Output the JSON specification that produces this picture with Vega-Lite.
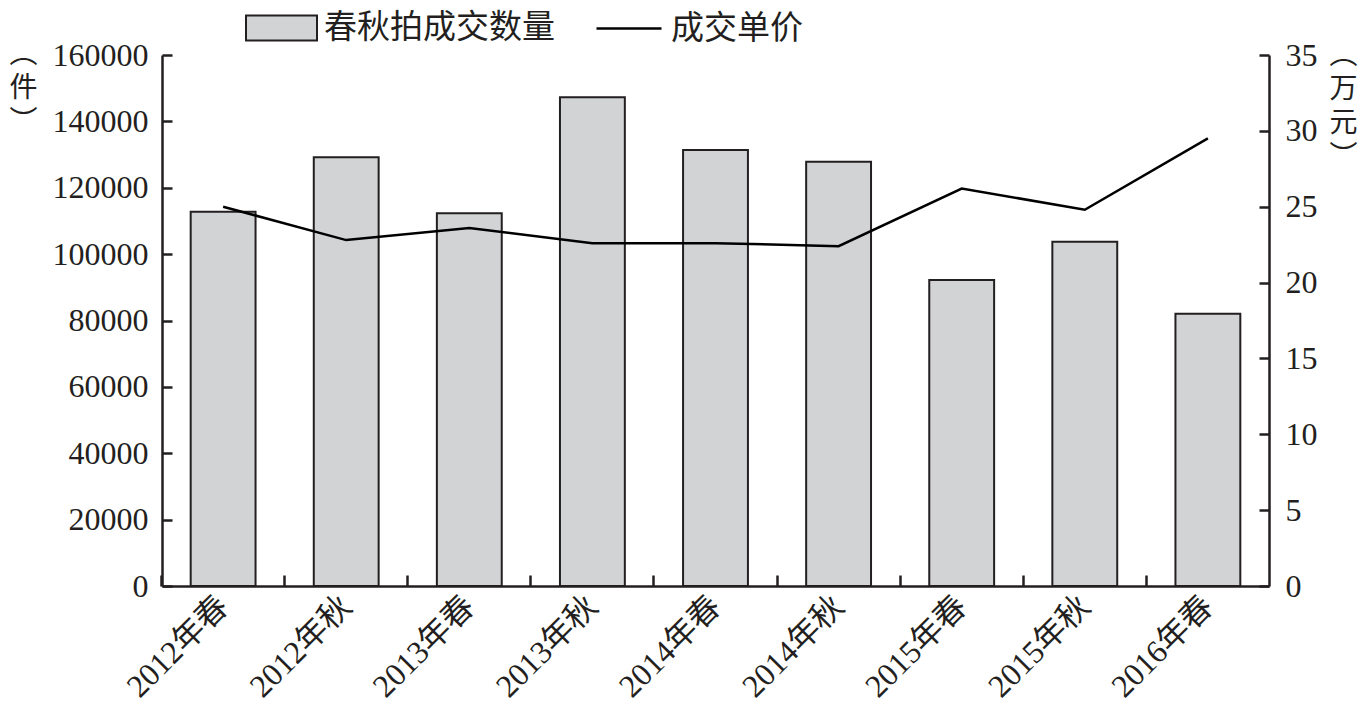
{
  "$schema": "https://vega.github.io/schema/vega-lite/v6.json",
  "width": 1107,
  "height": 531,
  "autosize": "none",
  "padding": {"left": 162, "top": 55, "right": 97, "bottom": 134},
  "background": "white",
  "config": {
    "font": "Liberation Serif, Noto Sans CJK SC",
    "view": {"stroke": null},
    "axis": {
      "grid": false,
      "domainColor": "#231f20",
      "domainWidth": 2.5,
      "tickColor": "#231f20",
      "tickWidth": 2.5,
      "labelColor": "#231f20",
      "labelFont": "Liberation Serif, Noto Sans CJK SC",
      "labelFontSize": 32,
      "titleFont": "Noto Sans CJK SC",
      "titleColor": "#231f20",
      "titleFontWeight": "normal"
    },
    "legend": {
      "labelFont": "Noto Sans CJK SC",
      "labelFontSize": 33,
      "labelColor": "#231f20",
      "labelLimit": 0,
      "padding": 0,
      "offset": 0
    }
  },
  "data": {
    "values": [
      {"period": "2012年春", "count": 112800, "price": 25.0},
      {"period": "2012年秋", "count": 129200, "price": 22.8},
      {"period": "2013年春", "count": 112300, "price": 23.6},
      {"period": "2013年秋", "count": 147300, "price": 22.6},
      {"period": "2014年春", "count": 131400, "price": 22.6},
      {"period": "2014年秋", "count": 127800, "price": 22.4},
      {"period": "2015年春", "count": 92200, "price": 26.2},
      {"period": "2015年秋", "count": 103700, "price": 24.8},
      {"period": "2016年春", "count": 82000, "price": 29.5}
    ]
  },
  "encoding": {
    "x": {
      "field": "period",
      "type": "nominal",
      "sort": null,
      "scale": {"paddingInner": 0.473, "paddingOuter": 0.233},
      "axis": {
        "title": null,
        "labelAngle": -45,
        "labelAlign": "right",
        "labelBaseline": "middle",
        "labelPadding": 26,
        "labelLimit": 0,
        "tickSize": -11,
        "bandPosition": -0.449
      }
    }
  },
  "layer": [
    {
      "mark": {"type": "bar", "stroke": "#231f20", "strokeWidth": 2},
      "encoding": {
        "y": {
          "field": "count",
          "type": "quantitative",
          "scale": {"domain": [0, 160000], "nice": false},
          "axis": {
            "values": [0, 20000, 40000, 60000, 80000, 100000, 120000, 140000, 160000],
            "format": "d",
            "tickSize": -10,
            "labelPadding": 24,
            "title": ["︵", "件", "︶"],
            "titleAngle": 0,
            "titleAlign": "center",
            "titleBaseline": "top",
            "titleFontSize": 28,
            "titleLineHeight": 34,
            "titleX": -139,
            "titleY": -15
          }
        },
        "fill": {
          "datum": "春秋拍成交数量",
          "scale": {"range": ["#d1d3d5"]},
          "legend": {
            "title": null,
            "orient": "none",
            "legendX": 83,
            "legendY": -63.5,
            "symbolType": "M-1,-0.352L1,-0.352L1,0.352L-1,0.352Z",
            "symbolSize": 5041,
            "symbolStrokeColor": "#231f20",
            "symbolStrokeWidth": 2,
            "symbolFillColor": "#d1d3d5",
            "labelOffset": 6
          }
        }
      }
    },
    {
      "mark": {"type": "line", "strokeWidth": 2.5},
      "encoding": {
        "y": {
          "field": "price",
          "type": "quantitative",
          "scale": {"domain": [0, 35], "nice": false},
          "axis": {
            "orient": "right",
            "values": [0, 5, 10, 15, 20, 25, 30, 35],
            "tickSize": -10,
            "labelPadding": 26,
            "title": ["︵", "万", "元", "︶"],
            "titleAngle": 0,
            "titleAlign": "center",
            "titleBaseline": "top",
            "titleFontSize": 28,
            "titleLineHeight": 34,
            "titleX": 74,
            "titleY": -14
          }
        },
        "stroke": {
          "datum": "成交单价",
          "scale": {"range": ["#000000"]},
          "legend": {
            "title": null,
            "orient": "none",
            "legendX": 433,
            "legendY": -60.5,
            "symbolType": "stroke",
            "symbolSize": 4225,
            "symbolStrokeWidth": 2.5,
            "symbolStrokeColor": "#000000",
            "labelOffset": 8
          }
        }
      }
    }
  ],
  "resolve": {"scale": {"y": "independent"}}
}
